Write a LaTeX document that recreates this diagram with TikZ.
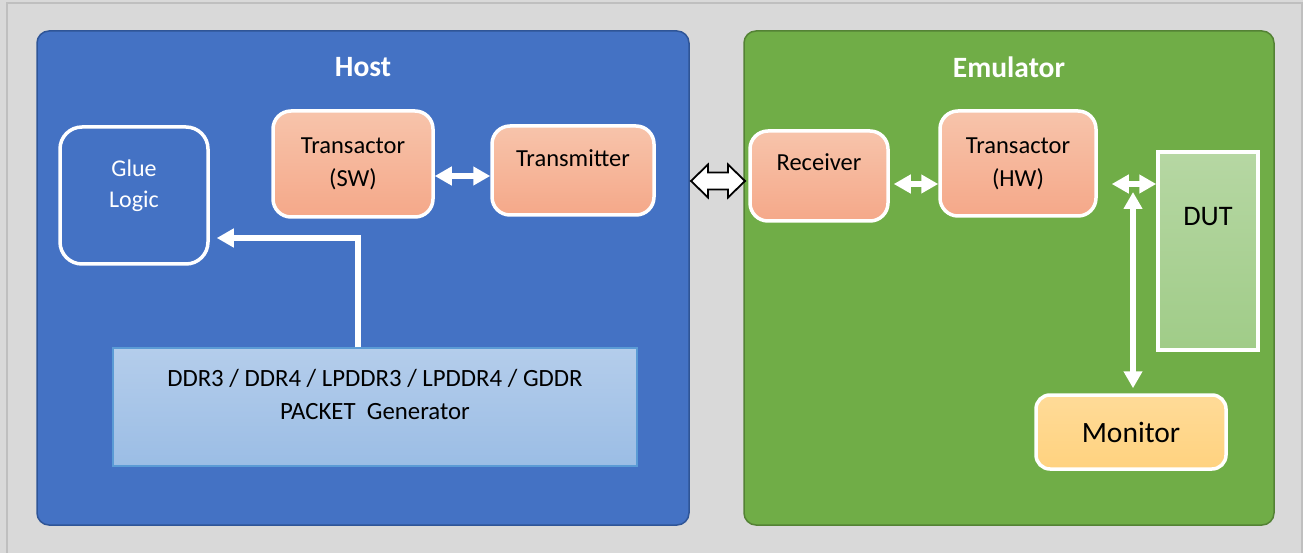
\documentclass[tikz,border=0pt]{standalone}
\usepackage{fontspec}
\setmainfont{Carlito}
\usetikzlibrary{arrows.meta}

\definecolor{pagegray}{HTML}{D9D9D9}
\definecolor{pageedge}{HTML}{BFBFBF}
\definecolor{hostblue}{HTML}{4472C4}
\definecolor{hostedge}{HTML}{2F5597}
\definecolor{emugreen}{HTML}{70AD47}
\definecolor{emuedge}{HTML}{548235}
\definecolor{salmontop}{HTML}{F7C4AB}
\definecolor{salmonbot}{HTML}{F5A889}
\definecolor{duttop}{HTML}{B6D7A3}
\definecolor{dutbot}{HTML}{A0CC88}
\definecolor{montop}{HTML}{FFDB98}
\definecolor{monbot}{HTML}{FFD27F}
\definecolor{gentop}{HTML}{B4CDEB}
\definecolor{genbot}{HTML}{9BBDE5}
\definecolor{genedge}{HTML}{5B9BD5}

\begin{document}
\begin{tikzpicture}[x=1pt,y=-1pt,
    >={Triangle[width=18pt,length=17pt]},
    panel/.style={rounded corners=12pt,line width=1.5pt,inner sep=0pt},
    head/.style={text=white,font=\fontsize{29.5}{34}\selectfont\bfseries},
    block/.style={draw=white,line width=3.5pt,rounded corners=18pt,top color=salmontop,bottom color=salmonbot,
        inner sep=0pt,align=center,font=\fontsize{24.5}{33}\selectfont},
    lbl/.style={align=center,font=\fontsize{24.5}{33}\selectfont},
    wa/.style={white,line width=6pt}]
	\useasboundingbox (0,0) rectangle (1303,553);
	\fill[pagegray] (0,0) rectangle (1303,553);
	\draw[pageedge,line width=1.5pt] (7,3) rectangle (1302,570);

	\node[panel,fill=hostblue,draw=hostedge,minimum width=652pt,minimum height=494pt] (host) at (363,278) {};
	\node[panel,fill=emugreen,draw=emuedge,minimum width=530pt,minimum height=494pt] (emu) at (1009,278) {};
	\node[head] (hosttitle) at (363,67) {Host};
	\node[head] (emutitle) at (1009,67) {Emulator};

	% host side
	\node[draw=white,line width=3.5pt,rounded corners=22pt,minimum width=148pt,minimum height=137pt,
	      label={[lbl,text=white,font=\fontsize{24}{31}\selectfont,yshift=10pt]center:Glue\\Logic}] (glue) at (134,195.5) {};
	\node[block,minimum width=160pt,minimum height=106pt] (sw) at (353,164) {Transactor\\(SW)};
	\node[block,minimum width=162pt,minimum height=89pt,label={[lbl,yshift=12.5pt]center:Transmitter}] (tx) at (573,170.5) {};
	\node[draw=genedge,line width=1.5pt,top color=gentop,bottom color=genbot,minimum width=524pt,minimum height=118pt,
	      label={[lbl,font=\fontsize{24.8}{33}\selectfont,yshift=12.5pt]center:DDR3 / DDR4 / LPDDR3 / LPDDR4 / GDDR\\PACKET\ \ Generator}] (gen) at (375,407) {};

	% emulator side
	\node[block,minimum width=138pt,minimum height=90pt,label={[lbl,yshift=14pt]center:Receiver}] (rx) at (819,176) {};
	\node[block,minimum width=156pt,minimum height=105pt] (hw) at (1018,163.5) {Transactor\\(HW)};
	\node[draw=white,line width=3.5pt,top color=duttop,bottom color=dutbot,minimum width=100pt,minimum height=198pt,
	      label={[lbl,font=\fontsize{28.3}{32}\selectfont,yshift=34pt]center:DUT}] (dut) at (1208,251) {};
	\node[draw=white,line width=3.5pt,rounded corners=14pt,top color=montop,bottom color=monbot,
	      minimum width=190pt,minimum height=74pt,font=\fontsize{29.5}{34}\selectfont] (mon) at (1131,432) {Monitor};

	% link between host and emulator
	\draw[black,line width=1.8pt,fill=white,line join=miter] (691,181) -- (708,164.5) -- (708,172.5) -- (728,172.5) -- (728,164.5)
	    -- (745,181) -- (728,197.5) -- (728,189.5) -- (708,189.5) -- (708,197.5) -- cycle;

	\draw[wa,<->] ([yshift=-12pt]sw.east) -- ([yshift=-12pt]sw.east -| tx.west);
	\draw[wa,<->] ([xshift=4pt,yshift=-8pt]rx.east) -- ([yshift=-8pt]rx.east -| hw.west);
	\draw[wa,<->] ([xshift=14pt,yshift=-20.5pt]hw.east) -- ([yshift=-20.5pt]hw.east -| dut.west);
	\coordinate (tap) at (1133,192);
	\draw[wa,<->,shorten >=5pt] (tap) -- (tap |- mon.north);
	\draw[wa,->] ([xshift=-17pt]gen.north) |- ([xshift=7pt,yshift=-42.5pt]glue.east);
\end{tikzpicture}
\end{document}
